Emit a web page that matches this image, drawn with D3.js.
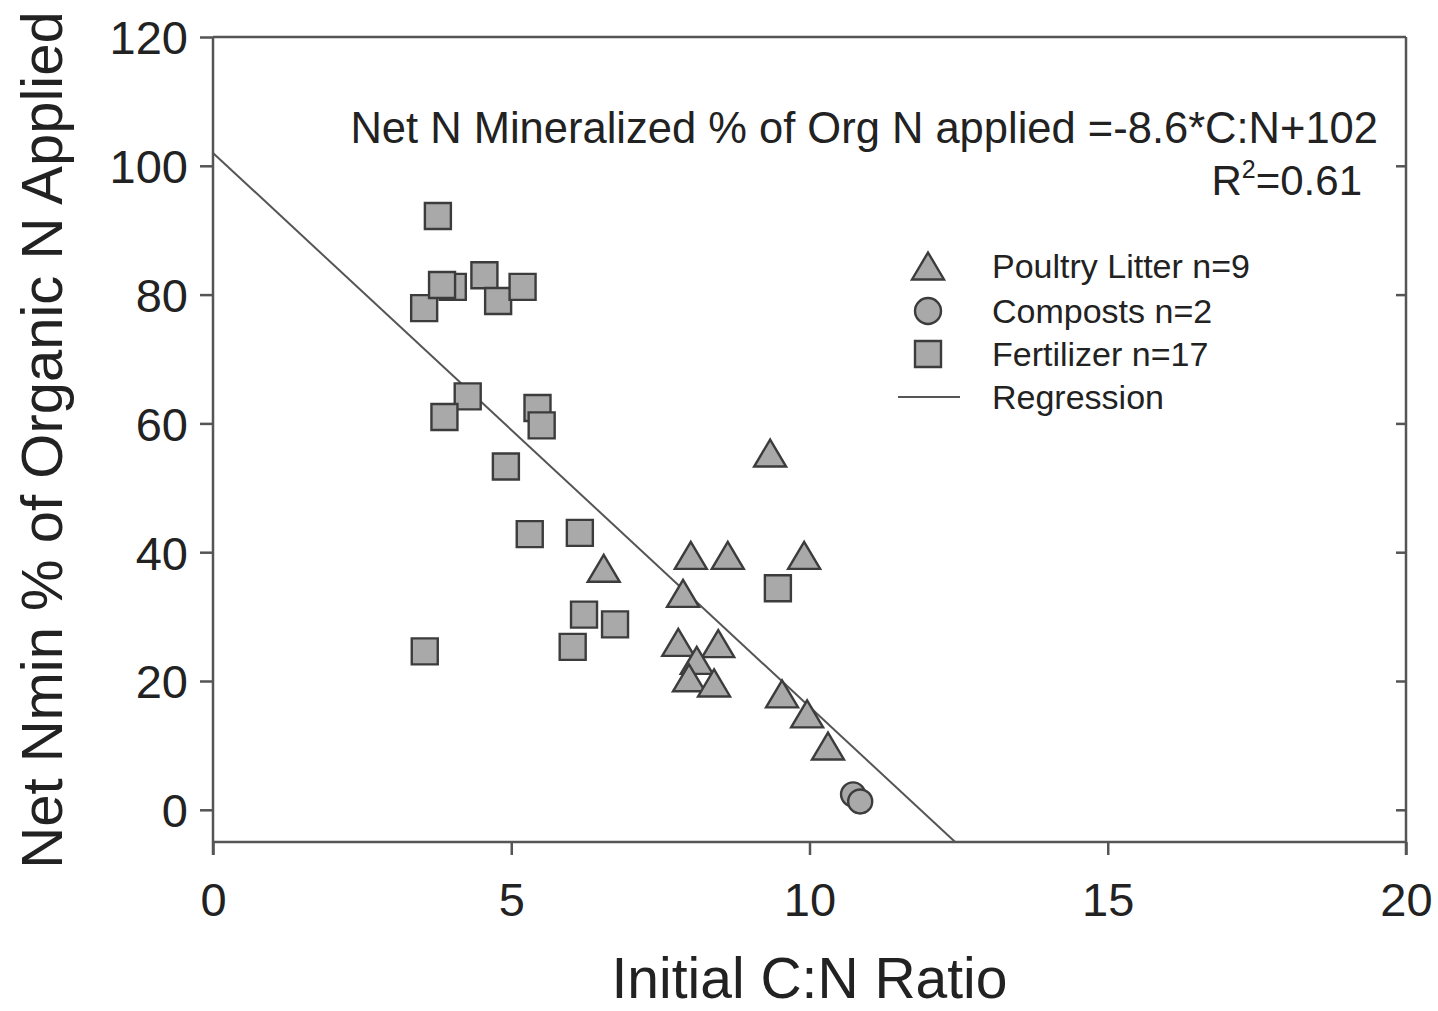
<!DOCTYPE html>
<html>
<head>
<meta charset="utf-8">
<script src="https://cdn.jsdelivr.net/npm/d3@7"></script>
<style>
  body { margin: 0; background: #fff; }
  svg { display: block; }
</style>
</head>
<body>
<div id="chart"></div>
<script>
// C:N ratio vs net N mineralized (% of organic N applied)
const fertX = [3.77, 3.54, 4.02, 3.84, 4.55, 4.78, 5.19, 4.27, 3.88, 5.44, 5.51, 4.91, 5.31, 6.15, 6.22, 6.74, 6.03, 3.55, 9.47];
const fertY = [92.2, 77.9, 81.2, 81.5, 83.0, 79.0, 81.2, 64.2, 61.0, 62.4, 59.7, 53.3, 42.8, 43.0, 30.3, 28.8, 25.3, 24.6, 34.4];

const poultryX = [9.34, 8.01, 8.63, 9.91, 6.55, 7.88, 7.80, 8.47, 8.11, 7.98, 8.40, 9.54, 9.96, 10.31];
const poultryY = [55.4, 39.5, 39.5, 39.5, 37.5, 33.6, 26.0, 25.8, 23.2, 20.5, 19.7, 18.0, 14.9, 9.9];

const compostX = [10.73, 10.85];
const compostY = [2.4, 1.3];

const slope = -8.6;
const intercept = 102;

const xTicks = [0, 5, 10, 15, 20];
const yTicks = [0, 20, 40, 60, 80, 100, 120];

const legendLabels = ["Poultry Litter n=9", "Composts n=2", "Fertilizer n=17", "Regression"];
const eqText = "Net N Mineralized % of Org N applied =-8.6*C:N+102";
const xLabel = "Initial C:N Ratio";
const yLabel = "Net Nmin % of Organic N Applied";

const width = 1438, height = 1011;
const font = "'Liberation Sans', Arial, sans-serif";
const fill = "#a9a9a9", stroke = "#3c3c3c", axisCol = "#555";

const svg = d3.select("#chart").append("svg")
    .attr("width", width)
    .attr("height", height);

const x = d3.scaleLinear().domain([0, 20]).range([213, 1406]);
const y = d3.scaleLinear().domain([-5, 120]).range([842, 37]);

const tickLen = 13;

// axes
const gx = svg.append("g")
    .attr("transform", "translate(0," + y(-5) + ")")
    .call(d3.axisBottom(x).tickValues(xTicks).tickSize(tickLen).tickPadding(28).tickSizeOuter(0));
const gy = svg.append("g")
    .attr("transform", "translate(" + x(0) + ",0)")
    .call(d3.axisLeft(y).tickValues(yTicks).tickSize(tickLen).tickPadding(12).tickSizeOuter(0));
const gr = svg.append("g")
    .attr("transform", "translate(" + x(20) + ",0)")
    .call(d3.axisLeft(y).tickValues(yTicks.slice(0, -1)).tickSize(10).tickFormat("").tickSizeOuter(0));

[gx, gy, gr].forEach(g => {
    g.select(".domain").remove();
    g.selectAll("line").attr("stroke", axisCol).attr("stroke-width", 2.5);
    g.selectAll("text")
        .attr("fill", "#222")
        .style("font-family", font)
        .style("font-size", "47px");
});
gy.selectAll("text").attr("dy", "0.36em");

// frame lines
const frame = svg.append("g").attr("stroke", axisCol).attr("stroke-width", 2.5).attr("fill", "none");
frame.append("line").attr("x1", x(0)).attr("x2", x(0)).attr("y1", y(120)).attr("y2", y(-5) + tickLen);
frame.append("line").attr("x1", x(20)).attr("x2", x(20)).attr("y1", y(120)).attr("y2", y(-5) + tickLen);
frame.append("line").attr("x1", x(0)).attr("x2", x(20)).attr("y1", y(-5)).attr("y2", y(-5));
frame.append("line").attr("x1", x(0)).attr("x2", x(20)).attr("y1", y(120)).attr("y2", y(120));

// regression line, cut at the bottom of the plot
const xEnd = (-5 - intercept) / slope;
svg.append("path")
    .datum([0, xEnd])
    .attr("fill", "none")
    .attr("stroke", "#555")
    .attr("stroke-width", 2)
    .attr("d", d3.line().x(d => x(d)).y(d => y(slope * d + intercept)));

// marker shapes
const tri = (w, h) => "M0," + (-h / 2) + "L" + (w / 2) + "," + (h / 2) + "L" + (-w / 2) + "," + (h / 2) + "Z";
const sq = s => "M" + (-s / 2) + "," + (-s / 2) + "h" + s + "v" + s + "h" + (-s) + "Z";

function drawMarks(xs, ys, draw) {
    const g = svg.append("g");
    xs.forEach((xv, i) => {
        const m = g.append("g").attr("transform", "translate(" + x(xv) + "," + y(ys[i]) + ")");
        draw(m);
    });
}
const styleMark = sel => sel.attr("fill", fill).attr("stroke", stroke).attr("stroke-width", 2.4);

drawMarks(poultryX, poultryY, m => styleMark(m.append("path").attr("d", tri(32, 27))));
drawMarks(compostX, compostY, m => styleMark(m.append("circle").attr("r", 12)));
drawMarks(fertX, fertY, m => styleMark(m.append("path").attr("d", sq(26))));

// equation
svg.append("text")
    .attr("x", 1378).attr("y", 143)
    .attr("text-anchor", "end")
    .attr("fill", "#222")
    .style("font-family", font).style("font-size", "43.5px")
    .text(eqText);
const r2 = svg.append("text")
    .attr("x", 1362).attr("y", 195)
    .attr("text-anchor", "end")
    .attr("fill", "#222")
    .style("font-family", font).style("font-size", "42px");
r2.append("tspan").text("R");
r2.append("tspan").attr("dy", -17).style("font-size", "25px").text("2");
r2.append("tspan").attr("dy", 17).text("=0.61");

// legend
const legY = [266, 311, 354, 397];
const leg = svg.append("g");
legendLabels.forEach((lab, i) => {
    leg.append("text")
        .attr("x", 992).attr("y", legY[i])
        .attr("dy", "0.36em")
        .attr("fill", "#222")
        .style("font-family", font).style("font-size", "34px")
        .text(lab);
});
styleMark(leg.append("path").attr("transform", "translate(928," + legY[0] + ")").attr("d", tri(32, 27)));
styleMark(leg.append("circle").attr("cx", 928).attr("cy", legY[1]).attr("r", 13));
styleMark(leg.append("path").attr("transform", "translate(928," + legY[2] + ")").attr("d", sq(26)));
leg.append("line").attr("x1", 898).attr("x2", 960).attr("y1", legY[3]).attr("y2", legY[3])
    .attr("stroke", "#555").attr("stroke-width", 2);

// axis titles
svg.append("text")
    .attr("x", (x(0) + x(20)) / 2).attr("y", 998)
    .attr("text-anchor", "middle")
    .attr("fill", "#222")
    .style("font-family", font).style("font-size", "57px")
    .text(xLabel);
svg.append("text")
    .attr("transform", "translate(62," + 440 + ") rotate(-90)")
    .attr("text-anchor", "middle")
    .attr("fill", "#222")
    .style("font-family", font).style("font-size", "58px")
    .text(yLabel);
</script>
</body>
</html>
